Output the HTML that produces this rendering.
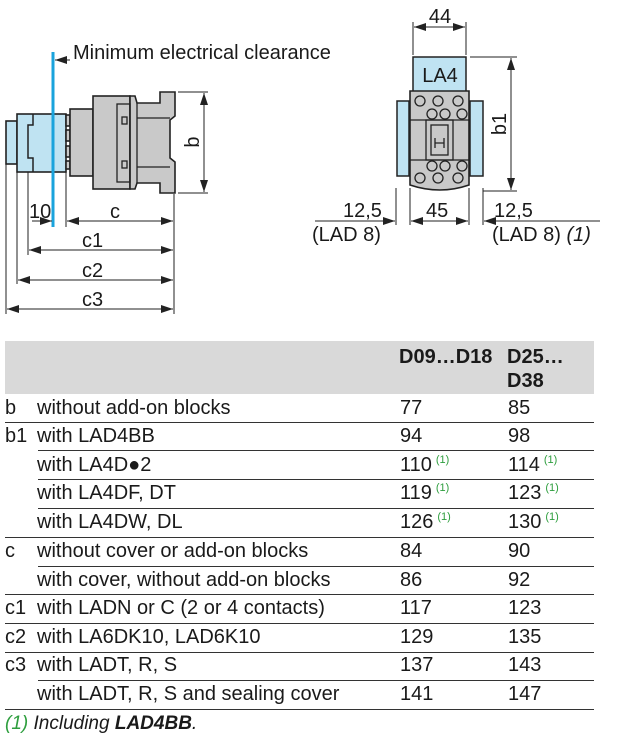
<!DOCTYPE html>
<html><head><meta charset="utf-8"><style>
html,body{margin:0;padding:0;background:#fff;}
body{width:617px;height:746px;position:relative;overflow:hidden;font-family:"Liberation Sans",Arial,sans-serif;color:#1a1a1a;}
svg{position:absolute;left:0;top:0;}
.t{position:absolute;font-size:20px;white-space:nowrap;line-height:22px;}
.hdr{position:absolute;left:5px;top:341px;width:589px;height:53px;background:#d9d9d9;}
.ln{position:absolute;height:0;border-top:1.5px solid #333;right:23px;}
sup{color:#2e9e3e;font-size:11px;position:relative;top:-8px;vertical-align:baseline;line-height:0;margin-left:4px;}
</style></head><body>
<svg width="617" height="330" viewBox="0 0 617 330" xmlns="http://www.w3.org/2000/svg">
<defs><marker id="a" markerWidth="12" markerHeight="8" refX="12" refY="4" orient="auto-start-reverse" markerUnits="userSpaceOnUse"><path d="M0,0 L12,4 L0,8 z" fill="#222"/></marker></defs>
<g stroke="#222" stroke-width="1.6" fill="#bfe3f2">
<rect x="6" y="121" width="11" height="43"/>
<rect x="17" y="114" width="49" height="58"/>
</g>
<path d="M33,114 V125 H28 V158 H33 V172" fill="none" stroke="#222" stroke-width="1.5"/>
<g stroke="#222" stroke-width="1.6" fill="#c9c9c9">
<rect x="66" y="115" width="4" height="11"/><rect x="66" y="130" width="4" height="11"/><rect x="66" y="146" width="4" height="11"/><rect x="66" y="161" width="4" height="8"/>
<rect x="70" y="109" width="23" height="67"/>
<rect x="93" y="96" width="37" height="93"/>
<path d="M130,96 H135 L137,103 H160 V92 H175 V116 L170,120 V158 L175,162 V193 H160 V183 H137 L135,189 H130 Z"/>
</g>
<g stroke="#222" stroke-width="1.3" fill="none">
<rect x="117" y="104" width="13" height="78"/>
<path d="M137,103 V183 M137,118 H170 M137,167 H170"/>
<rect x="122" y="117" width="5" height="7"/><rect x="122" y="161" width="5" height="7"/>
</g>
<line x1="53" y1="52" x2="53" y2="227" stroke="#1aa3dc" stroke-width="3"/>
<g stroke="#222" stroke-width="1" fill="none">
<line x1="70" y1="60" x2="55" y2="60" marker-end="url(#a)"/>
<line x1="6" y1="164" x2="6" y2="314"/><line x1="17" y1="172" x2="17" y2="284"/><line x1="28" y1="172" x2="28" y2="255"/><line x1="66" y1="172" x2="66" y2="227"/><line x1="174" y1="194" x2="174" y2="314"/>
<line x1="178" y1="92" x2="208" y2="92"/><line x1="178" y1="193" x2="208" y2="193"/>
<line x1="204" y1="93" x2="204" y2="192" marker-start="url(#a)" marker-end="url(#a)"/>
<line x1="32" y1="221" x2="52" y2="221" marker-end="url(#a)"/>
<line x1="67" y1="221" x2="173" y2="221" marker-start="url(#a)" marker-end="url(#a)"/>
<line x1="29" y1="250" x2="173" y2="250" marker-start="url(#a)" marker-end="url(#a)"/>
<line x1="18" y1="280" x2="173" y2="280" marker-start="url(#a)" marker-end="url(#a)"/>
<line x1="7" y1="309" x2="173" y2="309" marker-start="url(#a)" marker-end="url(#a)"/>
</g>
<g stroke="#222" stroke-width="1.5" fill="#bfe3f2">
<rect x="413" y="57" width="53" height="35"/>
<path d="M397,101 H409 V176 H397 Z"/><path d="M470,101 H483 V176 H470 Z"/>
</g>
<path d="M410,91 H469 V185 Q440,195 410,185 Z" fill="#c9c9c9" stroke="#222" stroke-width="1.6"/>
<g stroke="#222" stroke-width="1.3" fill="none">
<path d="M410,120 H469 M410,160 H469"/>
<rect x="426" y="120" width="27" height="40"/><rect x="431" y="125" width="17" height="30"/>
<path d="M435,138 V148 M444,138 V148 M435,143 H444"/>
</g>
<g stroke="#222" stroke-width="1.3" fill="#c9c9c9">
<circle cx="420" cy="101" r="5"/><circle cx="438" cy="101" r="5"/><circle cx="458" cy="101" r="5"/>
<circle cx="432" cy="114" r="5"/><circle cx="445" cy="114" r="5"/><circle cx="462" cy="114" r="5"/>
<circle cx="432" cy="166" r="5"/><circle cx="445" cy="166" r="5"/><circle cx="462" cy="166" r="5"/>
<circle cx="420" cy="178" r="5"/><circle cx="438" cy="178" r="5"/><circle cx="458" cy="178" r="5"/>
</g>
<g stroke="#222" stroke-width="1" fill="none">
<line x1="413" y1="22" x2="413" y2="55"/><line x1="466" y1="22" x2="466" y2="55"/>
<line x1="414" y1="27" x2="465" y2="27" marker-start="url(#a)" marker-end="url(#a)"/>
<line x1="470" y1="57" x2="517" y2="57"/><line x1="483" y1="191" x2="517" y2="191"/>
<line x1="511" y1="58" x2="511" y2="190" marker-start="url(#a)" marker-end="url(#a)"/>
<line x1="396" y1="188" x2="396" y2="225"/><line x1="410" y1="188" x2="410" y2="225"/><line x1="469" y1="188" x2="469" y2="225"/><line x1="483" y1="188" x2="483" y2="225"/>
<line x1="315" y1="221" x2="395" y2="221" marker-end="url(#a)"/>
<line x1="411" y1="221" x2="468" y2="221" marker-start="url(#a)" marker-end="url(#a)"/>
<line x1="600" y1="221" x2="484" y2="221" marker-end="url(#a)"/>
</g>
<g font-family="Liberation Sans, Arial, sans-serif" font-size="20" fill="#1a1a1a">
<text x="73" y="59">Minimum electrical clearance</text>
<text x="29" y="218">10</text><text x="110" y="218">c</text>
<text x="82" y="247">c1</text><text x="82" y="277">c2</text><text x="82" y="306">c3</text>
<text x="0" y="0" transform="translate(199,142) rotate(-90)" text-anchor="middle">b</text>
<text x="0" y="0" transform="translate(506,124) rotate(-90)" text-anchor="middle">b1</text>
<text x="440" y="23" text-anchor="middle">44</text>
<text x="440" y="82" text-anchor="middle">LA4</text>
<text x="343" y="217">12,5</text><text x="312" y="241">(LAD 8)</text>
<text x="426" y="217">45</text>
<text x="494" y="217">12,5</text><text x="492" y="241">(LAD 8) <tspan font-style="italic">(1)</tspan></text>
</g>
</svg>
<div class="hdr"></div>
<div class="t" style="left:399px;top:345px;font-weight:bold;line-height:24px;">D09…D18</div>
<div class="t" style="left:507px;top:345px;font-weight:bold;line-height:24px;">D25…<br>D38</div>
<div class="ln" style="left:5px;top:422px"></div>
<div class="ln" style="left:38px;top:450px"></div>
<div class="ln" style="left:38px;top:479px"></div>
<div class="ln" style="left:38px;top:508px"></div>
<div class="ln" style="left:5px;top:537px"></div>
<div class="ln" style="left:38px;top:566px"></div>
<div class="ln" style="left:5px;top:594px"></div>
<div class="ln" style="left:5px;top:623px"></div>
<div class="ln" style="left:5px;top:652px"></div>
<div class="ln" style="left:38px;top:680px"></div>
<div class="ln" style="left:5px;top:709px"></div>
<div class="t" style="left:5px;top:397px">b</div><div class="t" style="left:37px;top:397px">without add-on blocks</div><div class="t" style="left:400px;top:397px">77</div><div class="t" style="left:508px;top:397px">85</div>
<div class="t" style="left:5px;top:425px">b1</div><div class="t" style="left:37px;top:425px">with LAD4BB</div><div class="t" style="left:400px;top:425px">94</div><div class="t" style="left:508px;top:425px">98</div>
<div class="t" style="left:37px;top:454px">with LA4D●2</div><div class="t" style="left:400px;top:454px">110<sup>(1)</sup></div><div class="t" style="left:508px;top:454px">114<sup>(1)</sup></div>
<div class="t" style="left:37px;top:482px">with LA4DF, DT</div><div class="t" style="left:400px;top:482px">119<sup>(1)</sup></div><div class="t" style="left:508px;top:482px">123<sup>(1)</sup></div>
<div class="t" style="left:37px;top:511px">with LA4DW, DL</div><div class="t" style="left:400px;top:511px">126<sup>(1)</sup></div><div class="t" style="left:508px;top:511px">130<sup>(1)</sup></div>
<div class="t" style="left:5px;top:540px">c</div><div class="t" style="left:37px;top:540px">without cover or add-on blocks</div><div class="t" style="left:400px;top:540px">84</div><div class="t" style="left:508px;top:540px">90</div>
<div class="t" style="left:37px;top:569px">with cover, without add-on blocks</div><div class="t" style="left:400px;top:569px">86</div><div class="t" style="left:508px;top:569px">92</div>
<div class="t" style="left:5px;top:597px">c1</div><div class="t" style="left:37px;top:597px">with LADN or C (2 or 4 contacts)</div><div class="t" style="left:400px;top:597px">117</div><div class="t" style="left:508px;top:597px">123</div>
<div class="t" style="left:5px;top:626px">c2</div><div class="t" style="left:37px;top:626px">with LA6DK10, LAD6K10</div><div class="t" style="left:400px;top:626px">129</div><div class="t" style="left:508px;top:626px">135</div>
<div class="t" style="left:5px;top:654px">c3</div><div class="t" style="left:37px;top:654px">with LADT, R, S</div><div class="t" style="left:400px;top:654px">137</div><div class="t" style="left:508px;top:654px">143</div>
<div class="t" style="left:37px;top:683px">with LADT, R, S and sealing cover</div><div class="t" style="left:400px;top:683px">141</div><div class="t" style="left:508px;top:683px">147</div>
<div class="t" style="left:5px;top:713px;font-style:italic;font-size:19px"><span style="color:#2e9e3e">(1)</span> Including <b>LAD4BB</b>.</div>
</body></html>
